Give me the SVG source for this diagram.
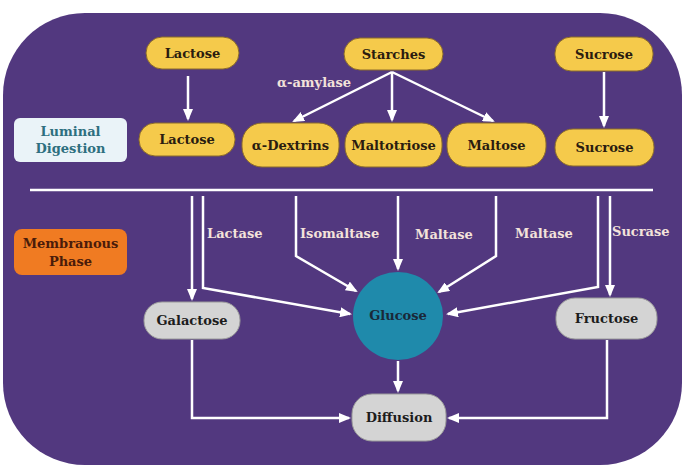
<svg xmlns="http://www.w3.org/2000/svg" width="685" height="470" viewBox="0 0 685 470">
<defs>
<marker id="ah" viewBox="0 0 12 10" refX="10" refY="5" markerWidth="12" markerHeight="10" markerUnits="userSpaceOnUse" orient="auto">
<path d="M0,0 L12,5 L0,10 z" fill="#ffffff"/>
</marker>
<style>
text{font-family:"DejaVu Serif","Liberation Serif",serif;font-weight:bold;font-size:13px;text-anchor:middle}
.y rect{fill:#f5ca4b;stroke:#8a6a2c;stroke-width:1}
.y text{fill:#2a1c10}
.g rect{fill:#d4d4d4;stroke:#9a9a9a;stroke-width:1}
.g text{fill:#1c1c1c}
.lbl{fill:#f3e2da;text-anchor:start}
.c path,.c line{stroke:#ffffff;stroke-width:2.5;fill:none}
.c .a{marker-end:url(#ah)}
</style>
</defs>
<rect x="3" y="13" width="679" height="452" rx="82" ry="82" fill="#52387f"/>

<g id="luminal">
<rect x="14" y="118" width="113" height="44" rx="6" fill="#eaf3f8"/>
<text x="70.5" y="136" fill="#2e6f7f">Luminal</text>
<text x="70.5" y="153" fill="#2e6f7f">Digestion</text>
</g>
<g id="membranous">
<rect x="14" y="229" width="113" height="46" rx="8" fill="#f07b22"/>
<text x="70.5" y="248" fill="#4a1c0a">Membranous</text>
<text x="70.5" y="266" fill="#4a1c0a">Phase</text>
</g>

<g class="c" id="connectors">
<line class="a" x1="188" y1="76" x2="188" y2="119"/>
<line class="a" x1="392" y1="72" x2="294" y2="121"/>
<line class="a" x1="392" y1="72" x2="392" y2="120"/>
<line class="a" x1="392" y1="72" x2="493" y2="121"/>
<line class="a" x1="604" y1="72" x2="604" y2="126"/>
<line x1="30" y1="190" x2="653" y2="190"/>
<line class="a" x1="192" y1="196" x2="192" y2="299"/>
<path class="a" d="M203,196 L203,288 L350,314"/>
<path class="a" d="M296,196 L296,256 L356,291"/>
<line class="a" x1="398" y1="196" x2="398" y2="269"/>
<path class="a" d="M496,196 L496,256 L439,292"/>
<path class="a" d="M598,196 L598,287 L448,314"/>
<line class="a" x1="610" y1="196" x2="610" y2="295"/>
<line class="a" x1="398" y1="361" x2="398" y2="391"/>
<path class="a" d="M192,340 L192,418 L349,418"/>
<path class="a" d="M607,340 L607,418 L449,418"/>
</g>

<text class="lbl" x="277" y="87">α-amylase</text>
<text class="lbl" x="207" y="238">Lactase</text>
<text class="lbl" x="300" y="238">Isomaltase</text>
<text class="lbl" x="415" y="239">Maltase</text>
<text class="lbl" x="515" y="238">Maltase</text>
<text class="lbl" x="612" y="236">Sucrase</text>

<g class="y" id="lactose1"><rect x="146" y="37" width="93" height="32" rx="16"/><text x="192.5" y="58">Lactose</text></g>
<g class="y" id="starches"><rect x="344" y="38" width="99" height="32" rx="16"/><text x="393.5" y="59">Starches</text></g>
<g class="y" id="sucrose1"><rect x="555" y="37" width="98" height="34" rx="16"/><text x="604" y="59">Sucrose</text></g>
<g class="y" id="lactose2"><rect x="139" y="123" width="96" height="33" rx="16"/><text x="187" y="144">Lactose</text></g>
<g class="y" id="dextrins"><rect x="242" y="123" width="97" height="44" rx="20"/><text x="290.5" y="150">α-Dextrins</text></g>
<g class="y" id="maltotriose"><rect x="345" y="123" width="97" height="44" rx="20"/><text x="393.5" y="150">Maltotriose</text></g>
<g class="y" id="maltose"><rect x="447" y="123" width="99" height="44" rx="20"/><text x="496.5" y="150">Maltose</text></g>
<g class="y" id="sucrose2"><rect x="555" y="129" width="99" height="37" rx="18"/><text x="604.5" y="152">Sucrose</text></g>

<g id="glucose"><ellipse cx="398" cy="316" rx="45" ry="44" fill="#1f8aab"/><text x="398" y="320" fill="#1a2838">Glucose</text></g>
<g class="g" id="galactose"><rect x="144" y="302" width="96" height="37" rx="18"/><text x="192" y="325">Galactose</text></g>
<g class="g" id="fructose"><rect x="556" y="298" width="101" height="41" rx="19"/><text x="606.5" y="323">Fructose</text></g>
<g class="g" id="diffusion"><rect x="352" y="394" width="94" height="47" rx="20"/><text x="399" y="422">Diffusion</text></g>
</svg>
